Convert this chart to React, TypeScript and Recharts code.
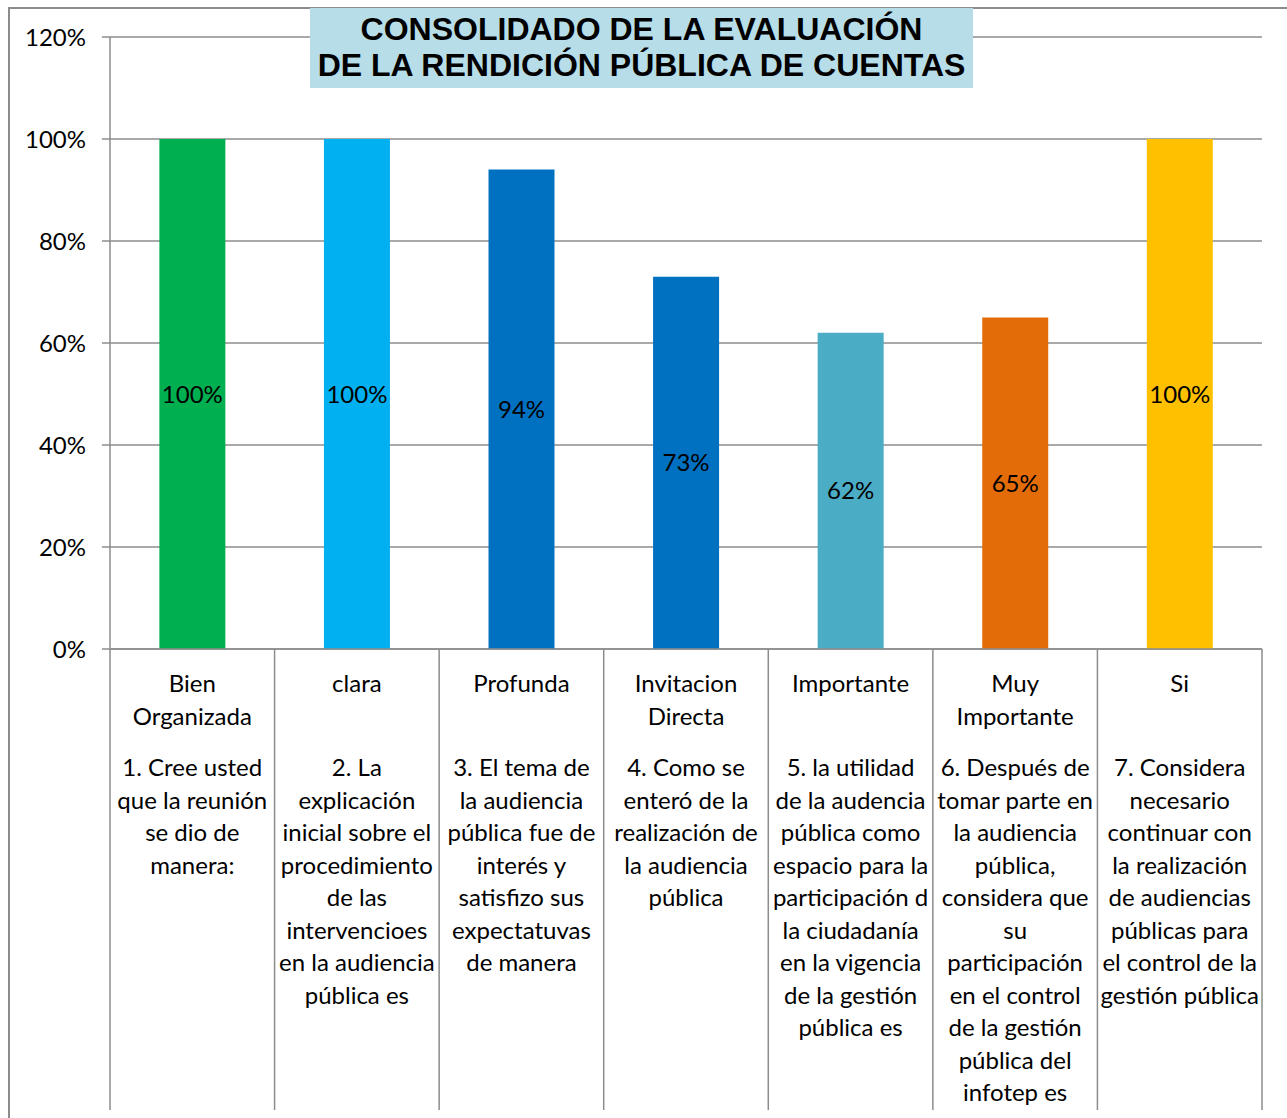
import { BarChart, Bar, XAxis, YAxis, CartesianGrid, Cell, LabelList } from 'recharts';

const categories = ['Bien Organizada', 'clara', 'Profunda', 'Invitacion Directa', 'Importante', 'Muy Importante', 'Si'];

const answerLines = [
  ['Bien', 'Organizada'],
  ['clara'],
  ['Profunda'],
  ['Invitacion', 'Directa'],
  ['Importante'],
  ['Muy', 'Importante'],
  ['Si'],
];

const questionLines = [
  ['1. Cree usted', 'que la reunión', 'se dio de', 'manera:'],
  ['2. La', 'explicación', 'inicial sobre el', 'procedimiento', 'de las', 'intervencioes', 'en la audiencia', 'pública es'],
  ['3. El tema de', 'la audiencia', 'pública fue de', 'interés y', 'satisfizo sus', 'expectatuvas', 'de manera'],
  ['4. Como se', 'enteró de la', 'realización de', 'la audiencia', 'pública'],
  ['5. la utilidad', 'de la audencia', 'pública como', 'espacio para la', 'participación d', 'la ciudadanía', 'en la vigencia', 'de la gestión', 'pública es'],
  ['6. Después de', 'tomar parte en', 'la audiencia', 'pública,', 'considera que', 'su', 'participación', 'en el control', 'de la gestión', 'pública del', 'infotep es'],
  ['7. Considera', 'necesario', 'continuar con', 'la realización', 'de audiencias', 'públicas para', 'el control de la', 'gestión pública'],
];

const values = [1.0, 1.0, 0.94, 0.73, 0.62, 0.65, 1.0];

const barColors = ['#00b050', '#00b0f0', '#0070c0', '#0070c0', '#4bacc6', '#e36c09', '#ffc000'];

const yTicks = [0, 0.2, 0.4, 0.6, 0.8, 1.0, 1.2];

const data = categories.map((name, i) => ({ name, value: values[i] }));

const FONT = 'Lato, "Open Sans", sans-serif';
const GRID = '#8c8c8c';
const PLOT_LEFT = 110;
const PLOT_RIGHT = 1262;
const BAND = (PLOT_RIGHT - PLOT_LEFT) / categories.length;
const SEP_BOTTOM = 1110;
const LINE_H = 32.5;

const pct = (v: number) => `${Math.round(v * 100)}%`;

function CategoryTick(props: any) {
  const { x, y, payload } = props;
  const i = payload.index;
  const last = i === categories.length - 1;
  return (
    <g>
      <line x1={x - BAND / 2} x2={x - BAND / 2} y1={y} y2={SEP_BOTTOM} stroke={GRID} strokeWidth={1.5} />
      {last && <line x1={x + BAND / 2} x2={x + BAND / 2} y1={y} y2={SEP_BOTTOM} stroke={GRID} strokeWidth={1.5} />}
      <text textAnchor="middle" fontFamily={FONT} fontSize={24} fill="#000">
        {answerLines[i].map((t, k) => (
          <tspan key={k} x={x} y={y + 43 + k * LINE_H}>{t}</tspan>
        ))}
      </text>
      <text textAnchor="middle" fontFamily={FONT} fontSize={24} fill="#000">
        {questionLines[i].map((t, k) => (
          <tspan key={k} x={x} y={y + 127 + k * LINE_H}>{t}</tspan>
        ))}
      </text>
    </g>
  );
}

export default function App() {
  return (
    <div style={{ position: 'absolute', left: 0, top: 0, width: 1287, height: 1118, overflow: 'hidden', background: '#fff' }}>
      <div style={{ position: 'absolute', left: 8, top: 7, width: 1400, height: 1200, border: `2px solid ${GRID}`, boxSizing: 'border-box' }} />
      <BarChart
        width={1287}
        height={1118}
        data={data}
        margin={{ top: 37, right: 1287 - PLOT_RIGHT, left: 0, bottom: 0 }}
        barCategoryGap="30%"
        style={{ position: 'absolute', left: 0, top: 0 }}
      >
        <CartesianGrid vertical={false} stroke={GRID} strokeWidth={1.5} strokeDasharray="" />
        <YAxis
          width={PLOT_LEFT}
          domain={[0, 1.2]}
          ticks={yTicks}
          tickFormatter={pct}
          tick={{ fontFamily: FONT, fontSize: 24, fill: '#000' }}
          tickSize={8}
          tickMargin={16}
          axisLine={{ stroke: GRID, strokeWidth: 1.5 }}
          tickLine={{ stroke: GRID, strokeWidth: 1.5 }}
        />
        <XAxis
          dataKey="name"
          height={1118 - 649}
          interval={0}
          tickSize={0}
          tickMargin={0}
          tickLine={false}
          axisLine={{ stroke: GRID, strokeWidth: 1.5 }}
          tick={<CategoryTick />}
        />
        <Bar dataKey="value" isAnimationActive={false}>
          {data.map((d, i) => (
            <Cell key={d.name} fill={barColors[i]} />
          ))}
          <LabelList dataKey="value" position="center" formatter={(v: any) => pct(Number(v))} fill="#000" fontSize={24} fontFamily={FONT} />
        </Bar>
      </BarChart>
      <div
        style={{
          position: 'absolute',
          left: 310,
          top: 8,
          width: 663,
          height: 80,
          background: '#b7dde8',
          fontFamily: '"Liberation Sans", Arial, sans-serif',
          fontWeight: 'bold',
          fontSize: 32,
          lineHeight: '36px',
          textAlign: 'center',
          paddingTop: 3,
          boxSizing: 'border-box',
          color: '#000',
          whiteSpace: 'nowrap',
        }}
      >
        CONSOLIDADO DE LA EVALUACIÓN
        <br />
        DE LA RENDICIÓN PÚBLICA DE CUENTAS
      </div>
    </div>
  );
}
